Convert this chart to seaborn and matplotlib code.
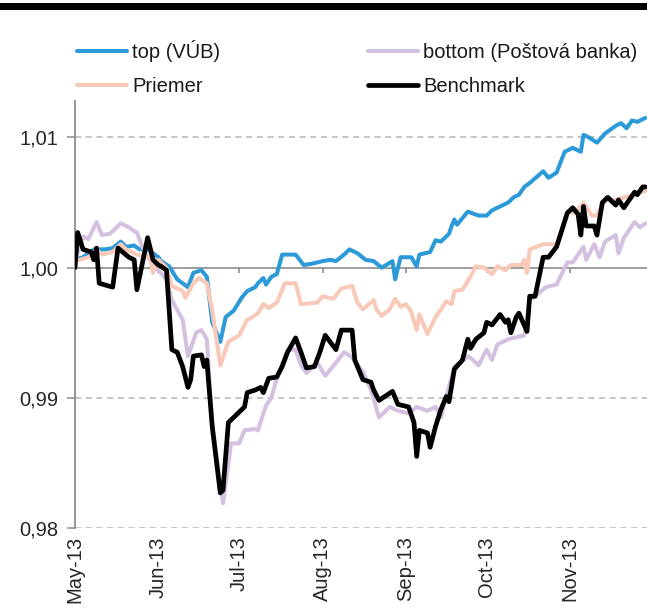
import matplotlib
matplotlib.use("Agg")
import matplotlib.pyplot as plt
from matplotlib.lines import Line2D
from matplotlib.ticker import FuncFormatter
import matplotlib.dates as mdates
import pandas as pd
import seaborn as sns

# ===== DATA (day offset from 1 May 2013, index value) =====
START = pd.Timestamp("2013-05-01")

top_days = [0, 3, 7, 11, 14, 17, 19, 22, 24, 27, 31, 32, 35, 38, 42, 44, 47, 49, 51, 54,
            56, 59, 62, 64, 67, 68, 70, 71, 73, 75, 77, 82, 85, 88, 92, 95, 97, 100, 102, 105,
            108, 111, 114, 118, 119, 121, 125, 127, 128, 132, 134, 136, 139, 140, 141, 142, 144, 146, 150, 153,
            155, 158, 161, 163, 165, 167, 169, 174, 176, 179, 182, 185, 188, 189, 191, 194, 197, 201, 203, 205,
            207, 209, 212]
top_vals = [1.0006, 1.0008, 1.0014, 1.0014, 1.0015, 1.0020, 1.0016, 1.0017, 1.0014, 1.0014, 1.0008, 1.0005, 1.0001, 0.9991, 0.9985, 0.9996, 0.9998, 0.9993, 0.9958, 0.9943,
            0.9962, 0.9967, 0.9977, 0.9982, 0.9985, 0.9988, 0.9992, 0.9987, 0.9993, 0.9995, 1.0010, 1.0010, 1.0002, 1.0003, 1.0005, 1.0006, 1.0005, 1.0010, 1.0014, 1.0011,
            1.0006, 1.0005, 1.0000, 1.0005, 0.9991, 1.0008, 1.0008, 1.0001, 1.0010, 1.0012, 1.0021, 1.0020, 1.0026, 1.0032, 1.0037, 1.0033, 1.0038, 1.0043, 1.0040, 1.0040,
            1.0044, 1.0047, 1.0050, 1.0054, 1.0056, 1.0062, 1.0065, 1.0074, 1.0069, 1.0073, 1.0089, 1.0092, 1.0089, 1.0102, 1.0100, 1.0096, 1.0103, 1.0109, 1.0111, 1.0107,
            1.0113, 1.0112, 1.0115]

bottom_days = [0, 3, 5, 8, 10, 13, 17, 20, 22, 23, 25, 27, 31, 34, 36, 40, 42, 45, 47, 49,
               51, 55, 58, 61, 63, 67, 68, 70, 71, 73, 75, 79, 82, 84, 86, 90, 93, 97, 100, 103,
               107, 110, 113, 117, 120, 124, 127, 131, 134, 136, 138, 140, 141, 144, 146, 148, 150, 153, 155, 157,
               161, 165, 167, 169, 171, 175, 179, 183, 185, 189, 190, 193, 195, 197, 201, 202, 204, 208, 210, 212]
bottom_vals = [1.0006, 1.0024, 1.0022, 1.0035, 1.0025, 1.0026, 1.0034, 1.0031, 1.0028, 1.0027, 1.0016, 1.0008, 0.9998, 0.9991, 0.9975, 0.9960, 0.9932, 0.9950, 0.9952, 0.9945,
               0.9880, 0.9819, 0.9865, 0.9865, 0.9875, 0.9876, 0.9875, 0.9888, 0.9894, 0.9900, 0.9915, 0.9937, 0.9937, 0.9925, 0.9919, 0.9927, 0.9917, 0.9927, 0.9935, 0.9931,
               0.9920, 0.9906, 0.9885, 0.9893, 0.9890, 0.9888, 0.9893, 0.9890, 0.9893, 0.9885, 0.9901, 0.9916, 0.9924, 0.9928, 0.9932, 0.9929, 0.9925, 0.9937, 0.9929, 0.9941,
               0.9945, 0.9947, 0.9948, 0.9975, 0.9978, 0.9985, 0.9987, 1.0004, 1.0004, 1.0016, 1.0006, 1.0018, 1.0008, 1.0020, 1.0025, 1.0011, 1.0023, 1.0035, 1.0031, 1.0034]

avg_days = [0, 5, 8, 10, 14, 17, 19, 23, 28, 29, 31, 34, 36, 40, 41, 44, 46, 49, 51, 54,
            57, 61, 64, 66, 68, 70, 72, 75, 78, 82, 84, 90, 92, 96, 99, 103, 105, 107, 111, 112,
            114, 117, 119, 121, 123, 125, 127, 128, 131, 134, 138, 140, 141, 144, 147, 149, 152, 155, 157, 160,
            162, 166, 167, 168, 169, 174, 179, 183, 186, 189, 192, 194, 197, 201, 206, 212]
avg_vals = [1.0005, 1.0008, 1.0014, 1.0010, 1.0012, 1.0018, 1.0014, 1.0010, 1.0008, 0.9996, 1.0006, 1.0000, 0.9986, 0.9982, 0.9977, 0.9988, 0.9992, 0.9988, 0.9967, 0.9925,
            0.9943, 0.9948, 0.9960, 0.9962, 0.9965, 0.9972, 0.9969, 0.9973, 0.9988, 0.9988, 0.9972, 0.9973, 0.9978, 0.9976, 0.9984, 0.9986, 0.9973, 0.9968, 0.9975, 0.9968,
            0.9963, 0.9968, 0.9976, 0.9970, 0.9972, 0.9966, 0.9952, 0.9964, 0.9949, 0.9962, 0.9974, 0.9972, 0.9982, 0.9983, 0.9993, 1.0001, 1.0000, 0.9995, 1.0001, 0.9998,
            1.0002, 1.0002, 1.0006, 0.9996, 1.0014, 1.0018, 1.0018, 1.0043, 1.0042, 1.0050, 1.0040, 1.0040, 1.0052, 1.0052, 1.0055, 1.0059]

bench_days = [0, 1, 3, 6, 7, 8, 9, 14, 16, 20, 22, 23, 27, 29, 31, 32, 34, 36, 38, 40,
              42, 43, 44, 47, 48, 49, 51, 54, 55, 57, 59, 61, 63, 64, 67, 69, 70, 72, 75, 77,
              79, 82, 84, 86, 89, 91, 93, 97, 99, 103, 104, 107, 110, 111, 113, 118, 120, 124, 126, 127,
              128, 131, 132, 134, 136, 138, 139, 141, 144, 146, 147, 149, 152, 153, 155, 158, 160, 161, 162, 164,
              165, 168, 169, 171, 174, 176, 179, 183, 185, 187, 188, 189, 190, 193, 194, 196, 198, 201, 202, 204,
              206, 208, 209, 211, 212]
bench_vals = [1.0000, 1.0027, 1.0014, 1.0012, 1.0006, 1.0015, 0.9988, 0.9985, 1.0015, 1.0008, 1.0006, 0.9983, 1.0023, 1.0006, 1.0002, 1.0001, 0.9998, 0.9937, 0.9935, 0.9924,
              0.9908, 0.9914, 0.9932, 0.9933, 0.9924, 0.9929, 0.9878, 0.9827, 0.9829, 0.9881, 0.9885, 0.9889, 0.9893, 0.9904, 0.9906, 0.9908, 0.9904, 0.9915, 0.9916, 0.9924,
              0.9935, 0.9946, 0.9935, 0.9923, 0.9924, 0.9935, 0.9948, 0.9937, 0.9952, 0.9952, 0.9929, 0.9914, 0.9912, 0.9906, 0.9898, 0.9905, 0.9895, 0.9893, 0.9881, 0.9855,
              0.9875, 0.9873, 0.9862, 0.9878, 0.9891, 0.9901, 0.9897, 0.9922, 0.9929, 0.9945, 0.9938, 0.9945, 0.9950, 0.9958, 0.9956, 0.9964, 0.9958, 0.9960, 0.9950, 0.9962,
              0.9965, 0.9951, 0.9978, 0.9978, 1.0008, 1.0008, 1.0016, 1.0042, 1.0046, 1.0041, 1.0025, 1.0047, 1.0032, 1.0032, 1.0025, 1.0050, 1.0054, 1.0048, 1.0052, 1.0046,
              1.0052, 1.0058, 1.0056, 1.0062, 1.0062]

LABELS = ["top (VÚB)", "bottom (Poštová banka)", "Priemer", "Benchmark"]
COLORS = ["#2c9ad9", "#d4c0e0", "#f8c9b8", "#000000"]
WIDTHS = [2.9, 2.9, 2.9, 3.4]


def series(days, vals):
    return pd.DataFrame({"date": START + pd.to_timedelta(days, unit="D"), "value": vals})


def main():
    sns.set_theme(style="white")
    plt.rcParams["font.family"] = ["Liberation Sans", "DejaVu Sans"]
    plt.rcParams["font.size"] = 14.5
    plt.rcParams["text.color"] = "#1a1a1a"

    fig = plt.figure(figsize=(6.47, 6.08), dpi=100)
    ax = fig.add_axes([75 / 647, 1 - 528 / 608, 572 / 647, 427 / 608])

    data = [series(top_days, top_vals), series(bottom_days, bottom_vals),
            series(avg_days, avg_vals), series(bench_days, bench_vals)]

    # draw bottom first, benchmark last
    for i in [1, 2, 0, 3]:
        sns.lineplot(data=data[i], x="date", y="value", ax=ax, color=COLORS[i],
                     linewidth=WIDTHS[i], label=LABELS[i], legend=False, zorder=3 + i)

    ymin, ymax = 0.98, 1.0128
    ax.set_ylim(ymin, ymax)
    ax.set_xlim(START, START + pd.Timedelta(days=212.6))

    # dashed grid, solid line at 1.00
    for y in [0.98, 0.99, 1.01]:
        ax.axhline(y, color="#b5b5b5", lw=1.1, ls=(0, (4, 3)), zorder=1)
    ax.axhline(1.0, color="#8c8c8c", lw=1.2, zorder=2)

    ax.set_yticks([0.98, 0.99, 1.00, 1.01])
    ax.yaxis.set_major_formatter(FuncFormatter(lambda v, p: f"{v:.2f}".replace(".", ",")))
    ax.tick_params(axis="y", direction="out", length=6, width=1.1, color="#8c8c8c",
                   pad=6, labelsize=14.5, left=True)

    months = pd.date_range("2013-05-01", "2013-11-01", freq="MS")
    ax.set_xticks(months)
    ax.xaxis.set_major_formatter(mdates.DateFormatter("%b-%y"))
    ax.tick_params(axis="x", length=0, pad=6, labelsize=14.5, labelrotation=90)

    # small month ticks hanging below the 1.00 line
    tick_len = 5 / 13000
    ax.vlines(months[1:], 1.0 - tick_len, 1.0, color="#8c8c8c", lw=1.2, zorder=2)

    for side in ["top", "right", "bottom"]:
        ax.spines[side].set_visible(False)
    ax.spines["left"].set_color("#8c8c8c")
    ax.spines["left"].set_linewidth(1.3)
    ax.set_xlabel("")
    ax.set_ylabel("")

    # legend, column order as in the original
    handles = [Line2D([], [], color=COLORS[i], lw=WIDTHS[i]) for i in range(4)]
    order = [0, 2, 1, 3]
    fig.legend([handles[i] for i in order], [LABELS[i] for i in order],
               loc="upper left", bbox_to_anchor=(77 / 647, 1 - 40 / 608), ncol=2,
               frameon=False, borderpad=0, borderaxespad=0, handlelength=2.5,
               handletextpad=0.25, columnspacing=7.3, labelspacing=0.75, fontsize=14.5)

    # black rule across the top
    fig.add_artist(Line2D([0, 1], [1 - 5.5 / 608, 1 - 5.5 / 608], color="black",
                          lw=5, transform=fig.transFigure))

    fig.savefig("out.png", dpi=100)


if __name__ == "__main__":
    main()
